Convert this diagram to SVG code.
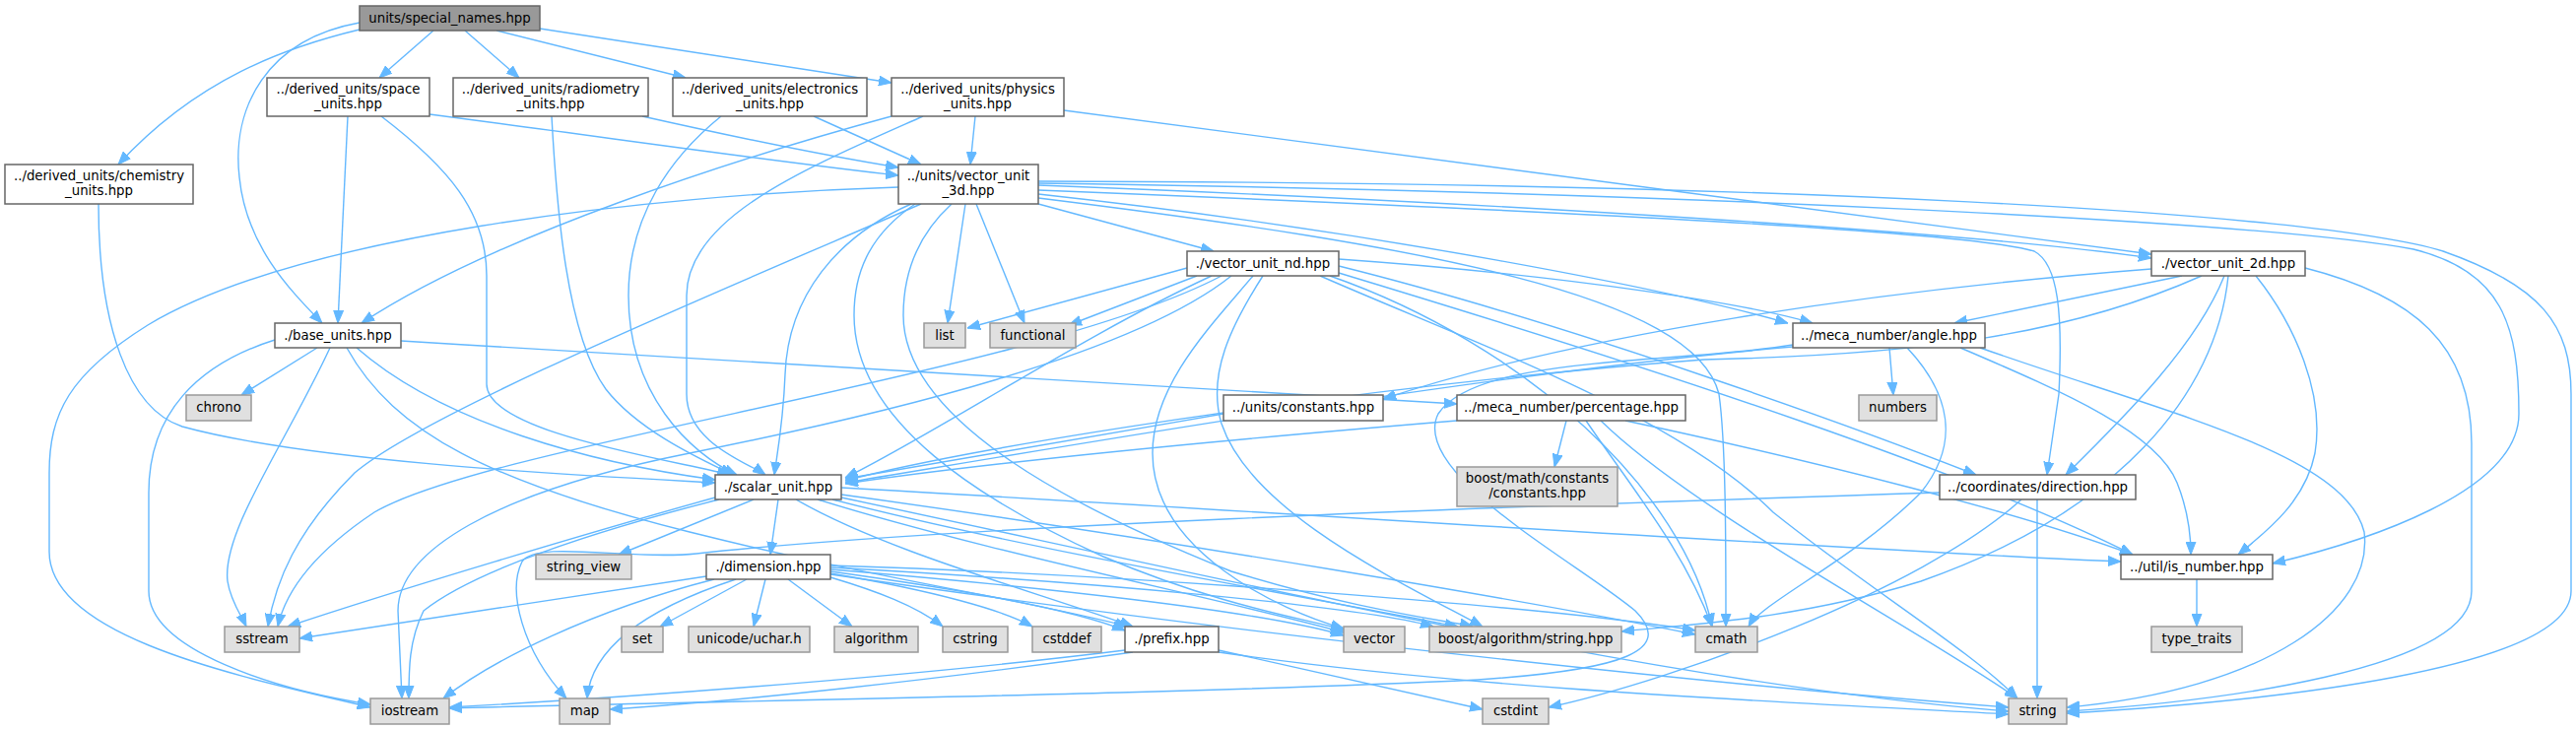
<svg xmlns="http://www.w3.org/2000/svg" width="2615" height="740" viewBox="0 0 2615 740">
<style>
text{font-family:"DejaVu Sans","Liberation Sans",sans-serif;font-size:13.3px;text-anchor:middle;fill:#000}
.n rect{fill:#fff;stroke:#666;stroke-width:1.5}
.x rect{fill:#e0e0e0;stroke:#999;stroke-width:1.5}
.r rect{fill:#999;stroke:#666;stroke-width:1.5}
#edges path{fill:none;stroke:#63b8ff;stroke-width:1.4;marker-end:url(#a)}
</style>
<defs>
<marker id="a" markerWidth="13" markerHeight="11" refX="13" refY="5.5" orient="auto" markerUnits="userSpaceOnUse">
<path d="M0,0.5 L13,5.5 L0,10.5 z" fill="#63b8ff" stroke="#63b8ff" stroke-width="1"/>
</marker>
</defs>
<rect width="2615" height="740" fill="#fff"/>
<g id="edges">
<path d="M365,30 C290,48 200,80 120,167"/>
<path d="M365,23 C270,40 235,110 243,180 C250,250 295,295 327,328"/>
<path d="M440,31 L385,79"/>
<path d="M472,31 L527,79"/>
<path d="M504,31 L696,79"/>
<path d="M548,29 L905,84"/>
<path d="M100,207 C100,330 130,415 185,433 C320,470 600,483 726,490"/>
<path d="M353,118 L343,328"/>
<path d="M387,118 C455,170 494,215 494,280 L494,390 C494,440 690,468 741,482"/>
<path d="M436,116 C620,140 800,166 912,178"/>
<path d="M560,118 C565,210 575,340 615,395 C650,440 720,470 744,482"/>
<path d="M652,118 C750,140 850,160 912,170"/>
<path d="M826,118 L935,167"/>
<path d="M732,118 C680,160 638,220 638,300 C638,400 700,460 748,482"/>
<path d="M990,118 L985,167"/>
<path d="M905,118 C750,160 500,240 367,328"/>
<path d="M937,118 C820,170 697,220 697,300 L697,400 C697,450 760,470 777,482"/>
<path d="M1080,112 L2184,258"/>
<path d="M322,353 L245,401"/>
<path d="M335,353 C290,450 225,540 231,590 C234,610 245,625 250,636"/>
<path d="M279,345 C200,370 151,420 151,500 L151,600 C151,660 280,700 376,715"/>
<path d="M362,353 C450,430 600,470 726,487"/>
<path d="M352,353 C400,440 500,490 700,540 C900,590 1050,610 1145,636"/>
<path d="M407,346 C800,370 1200,395 1479,410"/>
<path d="M912,190 C650,198 300,240 150,330 C70,380 50,420 50,480 L50,560 C50,650 260,690 376,718"/>
<path d="M925,207 C850,240 800,300 797,380 C795,430 789,460 786,482"/>
<path d="M935,207 C720,300 430,420 360,480 C300,540 280,590 272,636"/>
<path d="M980,207 L962,328"/>
<path d="M991,207 L1040,328"/>
<path d="M1054,207 L1232,255"/>
<path d="M1054,188 C1500,205 2000,235 2184,262"/>
<path d="M1054,197 C1400,235 1700,295 1815,328"/>
<path d="M1054,193 C1600,215 2000,235 2065,255 C2090,268 2094,320 2090,400 L2078,482"/>
<path d="M1054,186 C1700,195 2300,225 2450,253 C2540,275 2557,330 2557,420 C2557,500 2400,550 2307,572"/>
<path d="M1054,184 C1800,185 2350,215 2480,255 C2580,290 2610,330 2610,400 L2610,600 C2610,680 2300,712 2098,724"/>
<path d="M1054,201 C1450,250 1720,300 1745,400 C1752,450 1752,550 1752,636"/>
<path d="M929,207 C880,240 867,280 867,320 C867,430 1000,510 1120,565 C1250,620 1340,630 1364,640"/>
<path d="M966,207 C930,240 917,280 917,320 C917,430 1100,520 1250,580 C1380,620 1470,630 1495,636"/>
<path d="M1205,272 L982,333"/>
<path d="M1215,280 L1085,330"/>
<path d="M1230,280 C1100,340 950,440 858,485"/>
<path d="M1240,280 C1050,380 500,450 380,520 C320,560 290,600 282,636"/>
<path d="M1250,280 C1150,360 900,420 700,460 C500,500 404,560 404,620 L408,709"/>
<path d="M1272,280 C1230,330 1170,390 1170,460 C1170,560 1300,620 1364,638"/>
<path d="M1282,280 C1250,330 1225,380 1240,430 C1270,520 1420,590 1505,636"/>
<path d="M1350,280 C1550,350 1710,500 1738,636"/>
<path d="M1340,280 C1500,350 1700,420 1800,520 C1900,600 2000,660 2048,709"/>
<path d="M1359,263 C1600,280 1780,310 1840,328"/>
<path d="M1359,270 C1600,330 1900,440 2006,482"/>
<path d="M1359,277 C1700,380 2000,480 2165,563"/>
<path d="M2215,280 L1984,328"/>
<path d="M2184,273 C1900,295 1600,340 1404,405"/>
<path d="M2235,280 C2100,340 1950,360 1730,365 C1400,390 1000,450 858,488"/>
<path d="M2258,280 C2230,350 2160,420 2097,482"/>
<path d="M2290,280 C2330,330 2360,400 2350,460 C2340,510 2300,540 2272,563"/>
<path d="M2262,280 C2250,400 2150,520 1950,590 C1820,630 1700,635 1646,641"/>
<path d="M2340,272 C2450,300 2509,350 2509,450 L2509,600 C2509,680 2250,712 2098,722"/>
<path d="M1820,352 C1500,380 1100,450 858,490"/>
<path d="M1918,353 L1922,401"/>
<path d="M1936,353 C1980,400 1990,450 1950,500 C1880,570 1790,610 1775,636"/>
<path d="M1990,353 C2100,400 2190,440 2210,490 C2222,520 2224,545 2224,563"/>
<path d="M2010,353 C2200,420 2380,460 2400,540 C2410,620 2300,700 2098,718"/>
<path d="M1820,350 C1700,370 1500,360 1460,420 C1430,480 1600,570 1660,620 C1700,660 1650,680 1500,690 C1200,705 700,712 456,719"/>
<path d="M1479,427 C1200,450 1000,470 858,491"/>
<path d="M1590,427 L1578,474"/>
<path d="M1610,427 C1660,500 1710,560 1738,636"/>
<path d="M1625,427 C1720,520 1950,640 2048,709"/>
<path d="M1650,427 C1850,470 2050,520 2165,563"/>
<path d="M1242,420 C1100,445 950,470 858,486"/>
<path d="M2068,507 L2068,709"/>
<path d="M2052,507 C1950,600 1700,690 1572,718"/>
<path d="M1969,500 C1500,515 950,535 707,562 C640,569 545,548 530,570 C515,600 530,660 575,709"/>
<path d="M2230,588 L2230,636"/>
<path d="M726,505 C600,540 400,600 292,636"/>
<path d="M730,507 C600,540 480,580 430,620 C415,650 415,680 415,709"/>
<path d="M765,507 L628,563"/>
<path d="M790,507 L782,563"/>
<path d="M808,507 C900,560 1050,600 1150,636"/>
<path d="M830,507 C1000,560 1250,610 1364,642"/>
<path d="M845,507 C1050,560 1350,610 1480,636"/>
<path d="M854,502 C1200,550 1550,610 1721,644"/>
<path d="M854,495 C1300,520 1900,560 2153,570"/>
<path d="M854,505 C1300,600 1700,695 2039,722"/>
<path d="M717,585 L304,648"/>
<path d="M725,588 C600,620 500,670 450,709"/>
<path d="M747,588 C650,620 600,660 596,709"/>
<path d="M758,588 L670,636"/>
<path d="M777,588 L765,636"/>
<path d="M800,588 L865,636"/>
<path d="M843,586 C890,600 930,615 957,636"/>
<path d="M843,582 C950,600 1020,620 1048,636"/>
<path d="M843,580 C950,595 1080,615 1142,640"/>
<path d="M843,578 C1050,595 1280,620 1364,645"/>
<path d="M843,576 C1100,590 1380,615 1455,636"/>
<path d="M843,574 C1200,585 1600,620 1721,640"/>
<path d="M843,583 C1300,650 1800,700 2039,718"/>
<path d="M1142,660 C900,690 600,710 456,718"/>
<path d="M1150,662 C950,690 750,712 619,720"/>
<path d="M1237,660 L1505,720"/>
<path d="M1237,662 C1500,700 1800,712 2039,725"/>
</g>
<g id="special_names" class="r"><rect x="365" y="6" width="183" height="25"/><text x="456.5" y="23">units/special_names.hpp</text></g>
<g id="space_units" class="n"><rect x="271" y="79" width="165" height="39"/><text x="353.5" y="95">../derived_units/space</text><text x="353.5" y="110">_units.hpp</text></g>
<g id="radiometry_units" class="n"><rect x="460" y="79" width="198" height="39"/><text x="559" y="95">../derived_units/radiometry</text><text x="559" y="110">_units.hpp</text></g>
<g id="electronics_units" class="n"><rect x="683" y="79" width="197" height="39"/><text x="781.5" y="95">../derived_units/electronics</text><text x="781.5" y="110">_units.hpp</text></g>
<g id="physics_units" class="n"><rect x="905" y="79" width="175" height="39"/><text x="992.5" y="95">../derived_units/physics</text><text x="992.5" y="110">_units.hpp</text></g>
<g id="chemistry_units" class="n"><rect x="5" y="167" width="191" height="40"/><text x="100.5" y="183">../derived_units/chemistry</text><text x="100.5" y="198">_units.hpp</text></g>
<g id="vector_unit_3d" class="n"><rect x="912" y="167" width="142" height="40"/><text x="983" y="183">../units/vector_unit</text><text x="983" y="198">_3d.hpp</text></g>
<g id="base_units" class="n"><rect x="279" y="328" width="128" height="25"/><text x="343" y="345">./base_units.hpp</text></g>
<g id="vector_unit_nd" class="n"><rect x="1205" y="255" width="154" height="25"/><text x="1282" y="272">./vector_unit_nd.hpp</text></g>
<g id="vector_unit_2d" class="n"><rect x="2184" y="255" width="156" height="25"/><text x="2262" y="272">./vector_unit_2d.hpp</text></g>
<g id="list" class="x"><rect x="938" y="328" width="42" height="25"/><text x="959" y="345">list</text></g>
<g id="functional" class="x"><rect x="1005" y="328" width="87" height="25"/><text x="1048.5" y="345">functional</text></g>
<g id="angle" class="n"><rect x="1820" y="328" width="195" height="25"/><text x="1917.5" y="345">../meca_number/angle.hpp</text></g>
<g id="chrono" class="x"><rect x="189" y="401" width="66" height="26"/><text x="222" y="418">chrono</text></g>
<g id="numbers" class="x"><rect x="1887" y="401" width="79" height="26"/><text x="1926.5" y="418">numbers</text></g>
<g id="constants" class="n"><rect x="1242" y="401" width="162" height="26"/><text x="1323" y="418">../units/constants.hpp</text></g>
<g id="percentage" class="n"><rect x="1479" y="401" width="232" height="26"/><text x="1595" y="418">../meca_number/percentage.hpp</text></g>
<g id="boost_math_constants" class="x"><rect x="1479" y="474" width="163" height="40"/><text x="1560.5" y="490">boost/math/constants</text><text x="1560.5" y="505">/constants.hpp</text></g>
<g id="scalar_unit" class="n"><rect x="726" y="482" width="128" height="25"/><text x="790" y="499">./scalar_unit.hpp</text></g>
<g id="direction" class="n"><rect x="1969" y="482" width="199" height="25"/><text x="2068.5" y="499">../coordinates/direction.hpp</text></g>
<g id="string_view" class="x"><rect x="544" y="563" width="97" height="25"/><text x="592.5" y="580">string_view</text></g>
<g id="dimension" class="n"><rect x="717" y="563" width="126" height="25"/><text x="780" y="580">./dimension.hpp</text></g>
<g id="is_number" class="n"><rect x="2153" y="563" width="154" height="25"/><text x="2230" y="580">../util/is_number.hpp</text></g>
<g id="sstream" class="x"><rect x="228" y="636" width="76" height="26"/><text x="266" y="653">sstream</text></g>
<g id="set" class="x"><rect x="631" y="636" width="42" height="26"/><text x="652" y="653">set</text></g>
<g id="uchar" class="x"><rect x="699" y="636" width="123" height="26"/><text x="760.5" y="653">unicode/uchar.h</text></g>
<g id="algorithm" class="x"><rect x="847" y="636" width="85" height="26"/><text x="889.5" y="653">algorithm</text></g>
<g id="cstring" class="x"><rect x="957" y="636" width="66" height="26"/><text x="990" y="653">cstring</text></g>
<g id="cstddef" class="x"><rect x="1048" y="636" width="70" height="26"/><text x="1083" y="653">cstddef</text></g>
<g id="prefix" class="n"><rect x="1142" y="636" width="95" height="26"/><text x="1189.5" y="653">./prefix.hpp</text></g>
<g id="vector" class="x"><rect x="1364" y="636" width="62" height="26"/><text x="1395" y="653">vector</text></g>
<g id="boost_algorithm_string" class="x"><rect x="1451" y="636" width="195" height="26"/><text x="1548.5" y="653">boost/algorithm/string.hpp</text></g>
<g id="cmath" class="x"><rect x="1721" y="636" width="63" height="26"/><text x="1752.5" y="653">cmath</text></g>
<g id="type_traits" class="x"><rect x="2184" y="636" width="92" height="26"/><text x="2230" y="653">type_traits</text></g>
<g id="iostream" class="x"><rect x="376" y="709" width="80" height="26"/><text x="416" y="726">iostream</text></g>
<g id="map" class="x"><rect x="568" y="709" width="51" height="26"/><text x="593.5" y="726">map</text></g>
<g id="cstdint" class="x"><rect x="1505" y="709" width="67" height="26"/><text x="1538.5" y="726">cstdint</text></g>
<g id="string" class="x"><rect x="2039" y="709" width="59" height="26"/><text x="2068.5" y="726">string</text></g>
</svg>
